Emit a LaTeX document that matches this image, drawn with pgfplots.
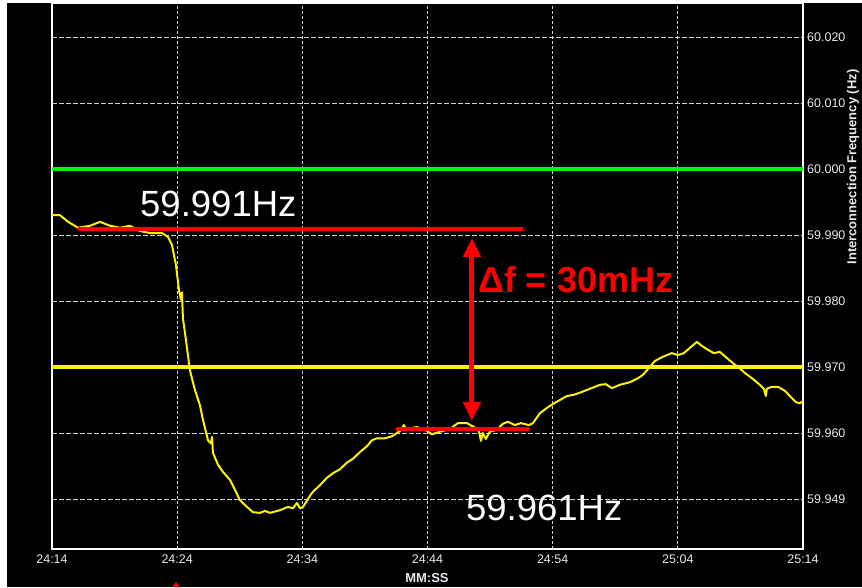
\documentclass[border=0pt]{standalone}
\usepackage{pgfplots}
\pgfplotsset{compat=1.18}
\usepackage{fontspec}
\setmainfont{Liberation Sans}
\usetikzlibrary{arrows.meta}
\definecolor{lbl}{RGB}{232,232,240}
\definecolor{gridc}{RGB}{210,210,210}
\begin{document}
\begin{tikzpicture}
\fill[white] (0pt,0pt) rectangle (862pt,587pt);
\fill[black] (7pt,0pt) rectangle (862pt,584pt);
\begin{axis}[
  at={(52pt,38pt)}, anchor=south west,
  scale only axis, width=751pt, height=546pt,
  xmin=0, xmax=60, ymin=59.942424, ymax=60.025152,
  axis background/.style={fill=black},
  axis line style={white, line width=1.2pt},
  xtick={0,10,20,30,40,50,60},
  xticklabels={24:14,24:24,24:34,24:44,24:54,25:04,25:14},
  ytick={59.95,59.96,59.97,59.98,59.99,60,60.01,60.02},
  yticklabels={59.949,59.960,59.970,59.980,59.990,60.000,60.010,60.020},
  yticklabel pos=right,
  major tick length=0pt,
  /pgf/number format/assume math mode=true,
  xticklabel style={font=\fontsize{12.5}{14}\selectfont, text=lbl, inner sep=0pt, anchor=north, yshift=-6pt},
  yticklabel style={font=\fontsize{12.5}{14}\selectfont, text=lbl, inner sep=0pt, anchor=west, xshift=4pt},
  xmajorgrids, ymajorgrids,
  x grid style={gridc, line width=0.9pt, dash pattern=on 3pt off 2pt},
  y grid style={gridc, line width=0.9pt, dash pattern=on 5pt off 2pt},
  clip=true,
]
% reference lines
\addplot[green, line width=4pt, forget plot] coordinates {(0,60.000) (60,60.000)};
\addplot[yellow, line width=4pt, forget plot] coordinates {(0,59.970) (60,59.970)};
% frequency trace
\addplot[yellow, line width=2pt, line join=round] coordinates {
(0.00,59.9930) (0.64,59.9930) (1.28,59.9920) (2.08,59.9911) (3.04,59.9914) (3.83,59.9920)
(4.63,59.9914) (5.43,59.9911) (6.23,59.9914) (7.03,59.9906) (7.83,59.9903) (8.79,59.9903)
(9.27,59.9897) (9.58,59.9885) (9.90,59.9855) (10.14,59.9817) (10.30,59.9802) (10.38,59.9813)
(10.46,59.9774) (10.70,59.9741) (11.02,59.9695) (11.42,59.9665) (11.82,59.9642) (12.06,59.9620)
(12.46,59.9589) (12.70,59.9584) (12.78,59.9594) (12.86,59.9570) (13.26,59.9552) (13.66,59.9541)
(14.22,59.9529) (14.62,59.9514) (15.02,59.9498) (15.58,59.9488) (16.05,59.9480) (16.61,59.9479)
(17.01,59.9482) (17.41,59.9479) (18.21,59.9483) (18.85,59.9488) (19.25,59.9486) (19.57,59.9494)
(19.81,59.9486) (20.05,59.9488) (20.29,59.9495) (20.61,59.9505) (20.85,59.9511) (21.41,59.9521)
(21.96,59.9532) (22.44,59.9539) (23.00,59.9545) (23.56,59.9555) (24.04,59.9561) (24.60,59.9571)
(25.16,59.9580) (25.56,59.9589) (25.96,59.9592) (26.60,59.9592) (27.16,59.9595) (27.80,59.9603)
(28.12,59.9612) (28.27,59.9606) (29.15,59.9609) (29.79,59.9605) (30.35,59.9598) (30.99,59.9602)
(31.79,59.9606) (32.43,59.9615) (33.15,59.9615) (33.71,59.9609) (34.11,59.9603) (34.27,59.9588)
(34.42,59.9600) (34.66,59.9591) (34.98,59.9602) (35.54,59.9605) (36.02,59.9614) (36.42,59.9617)
(36.98,59.9612) (37.46,59.9615) (38.10,59.9612) (38.42,59.9615) (38.98,59.9630) (39.54,59.9638)
(40.02,59.9644) (40.58,59.9650) (41.13,59.9656) (41.69,59.9658) (42.17,59.9661) (42.97,59.9667)
(43.77,59.9673) (44.25,59.9674) (44.73,59.9668) (45.37,59.9673) (46.17,59.9677) (46.81,59.9683)
(47.20,59.9688) (47.76,59.9700) (48.16,59.9709) (48.64,59.9714) (49.12,59.9718) (49.52,59.9721)
(50.00,59.9718) (50.48,59.9721) (50.96,59.9729) (51.52,59.9738) (51.92,59.9732) (52.32,59.9727)
(52.88,59.9721) (53.35,59.9723) (53.83,59.9715) (54.39,59.9706) (54.95,59.9698) (55.35,59.9691)
(55.99,59.9682) (56.55,59.9673) (56.87,59.9667) (57.03,59.9656) (57.11,59.9667) (57.51,59.9670)
(57.99,59.9670) (58.55,59.9664) (58.95,59.9656) (59.42,59.9647) (59.74,59.9645) (60.00,59.9648)
};
% annotation levels
\addplot[red, line width=4pt, forget plot] coordinates {(2.08,59.9909) (37.62,59.9909)};
\addplot[red, line width=4pt, forget plot] coordinates {(27.48,59.9606) (38.10,59.9606)};
\draw[red, line width=5pt, {Triangle[width=17pt,length=19pt]}-{Triangle[width=17pt,length=19pt]}]
  (axis cs:33.55,59.96182) -- (axis cs:33.55,59.98955);
\node[anchor=base west, inner sep=0pt, text=white, font=\fontsize{36.5}{40}\selectfont]
  at (axis cs:7.03,59.99273) {59.991Hz};
\node[anchor=base west, inner sep=0pt, text=white, font=\fontsize{36.5}{40}\selectfont]
  at (axis cs:33.07,59.94667) {59.961Hz};
\node[anchor=base west, inner sep=0pt, text=red, font=\fontsize{36}{40}\selectfont\bfseries]
  at (axis cs:34.03,59.98136) {Δf = 30mHz};
\end{axis}
\node[rotate=90, text=lbl, font=\fontsize{13}{15}\selectfont\bfseries] at (853pt,420pt) {Interconnection Frequency (Hz)};
\node[text=lbl, font=\fontsize{13}{15}\selectfont\bfseries, inner sep=0pt] at (427pt,9pt) {MM:SS};
\fill[red] (172.5pt,0pt) -- (179.5pt,0pt) -- (176pt,5pt) -- cycle;
\pgfresetboundingbox
\useasboundingbox (0pt,0pt) rectangle (862pt,587pt);
\end{tikzpicture}
\end{document}
